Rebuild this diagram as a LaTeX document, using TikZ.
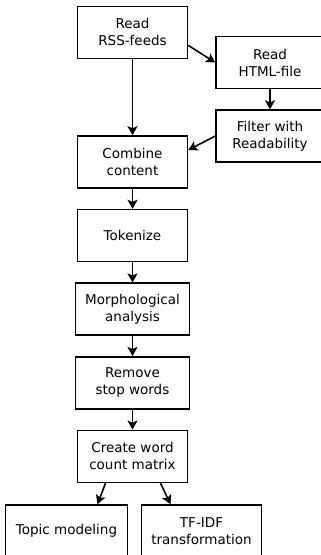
\documentclass[tikz,border=0pt]{standalone}
\usepackage{fontspec}
\setmainfont{DejaVu Sans}
\usetikzlibrary{chains,positioning,arrows.meta}

\begin{document}
\begin{tikzpicture}[x=1pt,y=1pt,
  box/.style={
    draw,
    line width=1.6pt,
    minimum width=110pt,
    minimum height=52pt,
    align=center,
    font=\fontsize{13.5}{17}\selectfont
  },
  flow/.style={
    line width=1.6pt,
    -{Stealth[length=9pt,width=10pt,inset=2pt]}
  },
  every join/.style={flow},
  start chain=main going below,node distance=20pt]
  \clip (0,0) rectangle (321,555);
  % main column
  \node[box,on chain=main] at (132.5,393)
      (combine) {Combine\\content};
  \node[box,on chain=main,join]
      (tokenize) {Tokenize};
  \node[box,on chain=main,join,minimum width=114pt]
      (morph) {Morphological\\analysis};
  \node[box,on chain=main,join,minimum width=114pt]
      (stopwords) {Remove\\stop words};
  \node[box,on chain=main,join]
      (wordcount) {Create word\\count matrix};
  % input branch
  \node[box,above=76pt of combine] (rss) {Read\\RSS-feeds};
  \node[box,minimum width=108pt] at (270,492.5) (html) {Read\\HTML-file};
  \node[box,minimum width=108pt,below=20pt of html] (filter) {Filter with\\Readability};
  % output branch
  \node[box,minimum width=122pt,below=21pt of wordcount,xshift=-66pt] (topic) {Topic modeling};
  \node[box,minimum width=120pt,below=21pt of wordcount,xshift=69pt] (tfidf) {TF-IDF\\transformation};

  \draw[flow] (rss) -- (combine);
  \draw[flow] ([yshift=-13pt]rss.east) -- (html.west);
  \draw[flow] (html) -- (filter);
  \draw[flow] (filter.west) -- ([yshift=12pt]combine.east);
  \draw[flow] ([xshift=-27pt]wordcount.south) -- ([xshift=31pt]topic.north);
  \draw[flow] ([xshift=28pt]wordcount.south) -- ([xshift=-31pt]tfidf.north);
\end{tikzpicture}
\end{document}
